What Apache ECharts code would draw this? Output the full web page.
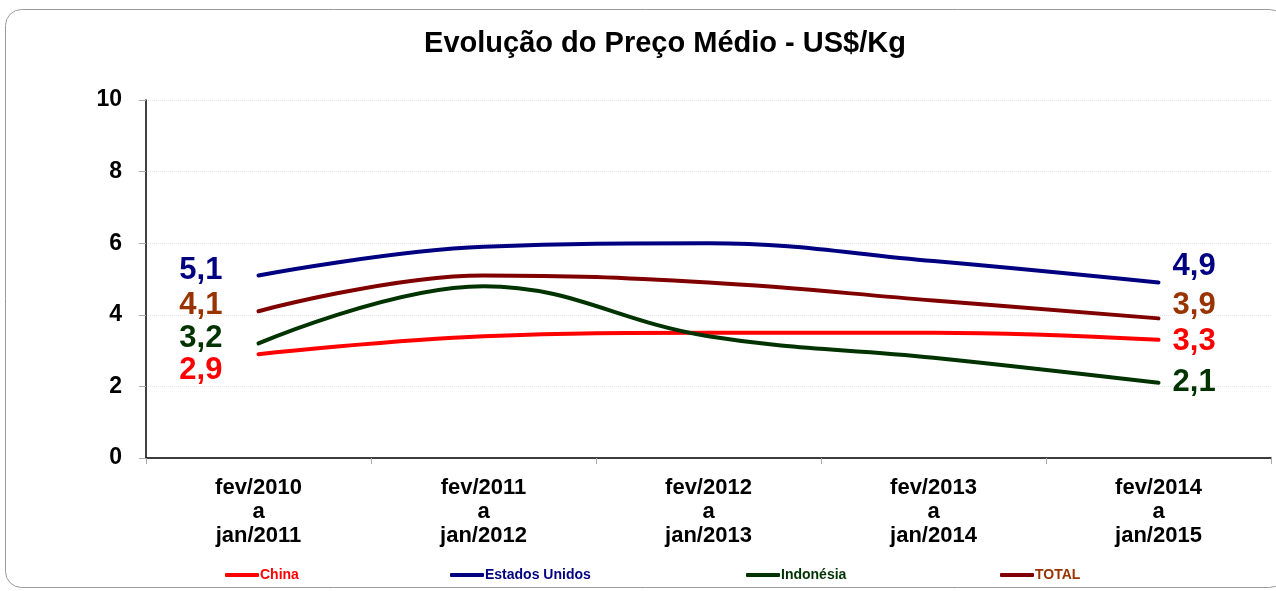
<!DOCTYPE html>
<html>
<head>
    <meta charset="utf-8">
    <title>Evolução do Preço Médio</title>
    <script src="https://cdn.jsdelivr.net/npm/echarts@6/dist/echarts.min.js"></script>
    <style>
        html, body {margin: 0; padding: 0; background: #fff;}
        #main {width: 1276px; height: 591px;}
    </style>
</head>
<body>
<div id="main"></div>
<script>
    // periodos (eixo x)
    var periodos = ['fev/2010\na\njan/2011', 'fev/2011\na\njan/2012', 'fev/2012\na\njan/2013',
        'fev/2013\na\njan/2014', 'fev/2014\na\njan/2015'];
    var yTicks = [0, 2, 4, 6, 8, 10];

    // preço médio US$/Kg
    var china = [2.9, 3.4, 3.5, 3.5, 3.3];
    var eua = [5.1, 5.9, 6.0, 5.5, 4.9];
    var indonesia = [3.2, 4.8, 3.4, 2.8, 2.1];
    var total = [4.1, 5.1, 4.9, 4.4, 3.9];

    var chart = echarts.init(document.getElementById('main'));
    var font = 'Liberation Sans, Arial, sans-serif';

    function serie(nome, dados, cor, corLabel, offIni, offFim) {
        return {
            name: nome,
            type: 'line',
            smooth: 0.4,
            symbol: 'circle',
            symbolSize: 0.1,
            showAllSymbol: true,
            lineStyle: {color: cor, width: 4, cap: 'round'},
            itemStyle: {color: cor},
            data: dados.map(function (v, i) {
                var d = {value: v};
                if (i === 0 || i === dados.length - 1) {
                    d.label = {
                        show: true,
                        position: i === 0 ? 'left' : 'right',
                        distance: i === 0 ? 36 : 14,
                        offset: [0, i === 0 ? offIni : offFim],
                        formatter: function (p) { return p.value.toFixed(1).replace('.', ','); },
                        color: corLabel,
                        fontSize: 31,
                        fontWeight: 'bold',
                        fontFamily: font
                    };
                }
                return d;
            })
        };
    }

    function legenda(nome, x, cor) {
        return {
            left: x, top: 563,
            icon: 'roundRect', itemWidth: 34, itemHeight: 4, itemGap: 0,
            data: [{name: nome, textStyle: {color: cor}}],
            textStyle: {fontSize: 14, fontWeight: 'bold', fontFamily: font, padding: [0, 0, 0, -4]}
        };
    }

    chart.setOption({
        animation: false,
        title: {
            text: 'Evolução do Preço Médio - US$/Kg',
            left: 660, top: 24, textAlign: 'center',
            textStyle: {fontSize: 29, fontWeight: 'bold', color: '#000', fontFamily: font}
        },
        graphic: [{
            type: 'rect', silent: true, z: -1,
            shape: {x: 5.5, y: 9.5, width: 1280, height: 578, r: 16},
            style: {fill: 'none', stroke: '#9a9a9a', lineWidth: 1}
        }],
        legend: [
            legenda('China', 220, '#ff0000'),
            legenda('Estados Unidos', 445, '#000080'),
            legenda('Indonésia', 741, '#003300'),
            legenda('TOTAL', 995, '#993300')
        ],
        grid: {left: 146, right: 5, top: 100, bottom: 133},
        xAxis: {
            type: 'category',
            data: periodos,
            boundaryGap: true,
            axisLine: {lineStyle: {color: '#000', width: 1.5}},
            axisTick: {show: true, length: 6, lineStyle: {color: '#aaa'}},
            axisLabel: {
                color: '#000', fontSize: 22, fontWeight: 'bold', fontFamily: font,
                lineHeight: 24, margin: 18
            }
        },
        yAxis: {
            type: 'value',
            min: yTicks[0], max: yTicks[yTicks.length - 1], interval: 2,
            axisLine: {show: true, lineStyle: {color: '#000', width: 1.5}},
            axisTick: {show: true, length: 7, lineStyle: {color: '#aaa'}},
            axisLabel: {color: '#000', fontSize: 23, fontWeight: 'bold', fontFamily: font, margin: 24},
            splitLine: {show: true, lineStyle: {color: '#e6e6e6', type: 'dotted'}}
        },
        series: [
            serie('China', china, '#ff0000', '#ff0000', 16, 2),
            serie('Estados Unidos', eua, '#000080', '#000080', -5, -16),
            serie('Indonésia', indonesia, '#003300', '#003300', -5, 0),
            serie('TOTAL', total, '#800000', '#993300', -6, -13)
        ]
    });
</script>
</body>
</html>
